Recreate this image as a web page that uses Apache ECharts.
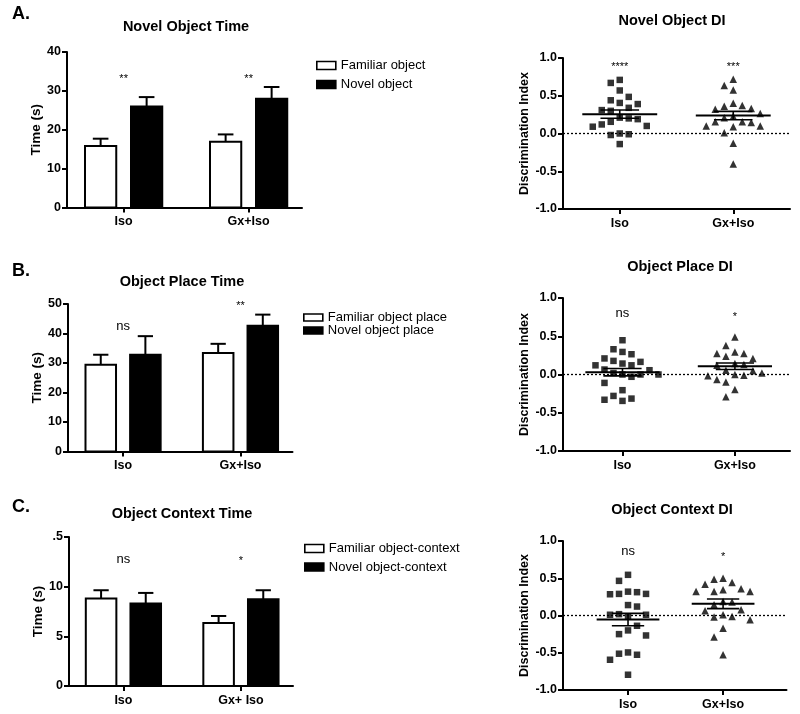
<!DOCTYPE html>
<html><head><meta charset="utf-8">
<script src="https://cdn.jsdelivr.net/npm/echarts@6/dist/echarts.min.js"></script>
<style>html,body{margin:0;padding:0;background:#fff}#c{width:800px;height:714px}</style>
</head><body><div id="c"></div>
<script>
// ---------- DATA ----------
const groupsAB = ['Iso', 'Gx+Iso'];
const groupsC = ['Iso', 'Gx+ Iso'];

// A. Novel Object Time (s)
const familiarA = [15.8, 16.9];
const familiarA_sem = [1.9, 1.9];
const novelA = [26.0, 28.0];
const novelA_sem = [2.4, 3.0];
const sigA = ['**', '**'];

// B. Object Place Time (s)
const familiarB = [29.4, 33.4];
const familiarB_sem = [3.4, 3.1];
const novelB = [32.8, 42.6];
const novelB_sem = [6.3, 3.8];
const sigB = ['ns', '**'];

// C. Object Context Time (s)
const familiarC = [8.8, 6.35];
const familiarC_sem = [0.84, 0.7];
const novelC = [8.3, 8.73];
const novelC_sem = [1.07, 0.91];
const sigC = ['ns', '*'];

// Discrimination indices (individual animals)
const diA_iso = [0.71, 0.67, 0.57, 0.485, 0.44, 0.405, 0.39, 0.34, 0.31, 0.30, 0.21, 0.20, 0.19, 0.155, 0.12, 0.10, 0.09, 0.0, -0.01, -0.02, -0.14];
const diA_gx = [0.72, 0.635, 0.575, 0.40, 0.37, 0.36, 0.33, 0.32, 0.265, 0.23, 0.21, 0.155, 0.155, 0.145, 0.10, 0.10, 0.09, 0.01, -0.13, -0.405];
const diA_mean = [0.256, 0.238];
const diA_sem = [0.055, 0.055];
const sigDiA = ['****', '***'];

const diB_iso = [0.448, 0.33, 0.295, 0.265, 0.21, 0.178, 0.165, 0.143, 0.12, 0.12, 0.065, 0.056, 0.02, 0.0, 0.0, 0.0, -0.03, -0.11, -0.205, -0.28, -0.315, -0.33, -0.345];
const diB_gx = [0.49, 0.38, 0.295, 0.274, 0.274, 0.24, 0.21, 0.143, 0.13, 0.12, 0.056, 0.05, 0.02, 0.0, -0.01, -0.015, -0.065, -0.097, -0.195, -0.29];
const diB_mean = [0.03, 0.108];
const diB_sem = [0.048, 0.043];
const sigDiB = ['ns', '*'];

const diC_iso = [0.546, 0.465, 0.32, 0.313, 0.29, 0.29, 0.285, 0.14, 0.12, 0.018, 0.01, 0.01, -0.013, -0.138, -0.2, -0.25, -0.268, -0.496, -0.513, -0.527, -0.594, -0.795];
const diC_gx = [0.50, 0.488, 0.443, 0.42, 0.36, 0.344, 0.322, 0.322, 0.322, 0.188, 0.18, 0.143, 0.063, 0.076, 0.01, -0.013, -0.02, -0.058, -0.17, -0.29, -0.527];
const diC_mean = [-0.055, 0.157];
const diC_sem = [0.083, 0.065];
const sigDiC = ['ns', '*'];

// ---------- LAYOUT ----------
const FONT = '"Liberation Sans", Arial, sans-serif';
const grids = [
  {left: 67, top: 52, width: 235, height: 155.5},
  {left: 563, top: 58, width: 227, height: 151},
  {left: 68, top: 304, width: 224.5, height: 147.5},
  {left: 563, top: 298, width: 227, height: 153},
  {left: 69, top: 537, width: 224, height: 149},
  {left: 563, top: 541, width: 223.5, height: 149}
];
const xRanges = [[0.547, 2.427], [0.5, 2.5], [0.531, 2.443], [0.471, 2.49], [0.537, 2.443], [0.316, 2.667]];

// deterministic beeswarm: spreads points that share similar values sideways
function swarm(values, gi, center) {
  const g = grids[gi];
  const pxPerX = g.width / (xRanges[gi][1] - xRanges[gi][0]);
  const pxPerY = g.height / 2;
  const order = values.map((v, i) => i).sort((a, b) => values[b] - values[a]);
  const placed = [];
  const xs = new Array(values.length);
  const step = 4.5, dxMin = 9, dyMin = 10.5;
  const cands = [0];
  for (let j = 1; j < 30; j++) { cands.push(-j * step, j * step); }
  let flip = false;
  for (const i of order) {
    const py = values[i] * pxPerY;
    let off = 0;
    for (let c of cands) {
      if (flip) c = -c;
      if (!placed.some(p => Math.abs(p.x - c) < dxMin && Math.abs(p.y - py) < dyMin)) { off = c; break; }
    }
    if (off !== 0) flip = !flip;
    placed.push({x: off, y: py});
    xs[i] = center + off / pxPerX;
  }
  return values.map((v, i) => [xs[i], v]);
}

function barRender(width, fill) {
  return function (params, api) {
    const x = api.value(0), v = api.value(1), e = api.value(2);
    const tl = api.coord([x - width / 2, v]);
    const br = api.coord([x + width / 2, 0]);
    const top = api.coord([x, v + e]);
    const capL = api.coord([x - width / 4, v + e]);
    const capR = api.coord([x + width / 4, v + e]);
    return {type: 'group', children: [
      {type: 'line', shape: {x1: top[0], y1: tl[1], x2: top[0], y2: top[1]}, style: {stroke: '#000', lineWidth: 2}},
      {type: 'line', shape: {x1: capL[0], y1: capL[1], x2: capR[0], y2: capR[1]}, style: {stroke: '#000', lineWidth: 2}},
      {type: 'rect', shape: {x: tl[0], y: tl[1], width: br[0] - tl[0], height: br[1] - tl[1]}, style: {fill: fill, stroke: '#000', lineWidth: 2}}
    ]};
  };
}

function meanRender(params, api) {
  const x = api.value(0), m = api.value(1), s = api.value(2);
  const a = api.coord([x - 0.33, m]), b = api.coord([x + 0.33, m]);
  const u1 = api.coord([x - 0.17, m + s]), u2 = api.coord([x + 0.17, m + s]);
  const l1 = api.coord([x - 0.17, m - s]), l2 = api.coord([x + 0.17, m - s]);
  const st = {stroke: '#000', lineWidth: 2};
  const st2 = {stroke: '#000', lineWidth: 1.6};
  return {type: 'group', children: [
    {type: 'line', shape: {x1: a[0], y1: a[1], x2: b[0], y2: b[1]}, style: st},
    {type: 'line', shape: {x1: u1[0], y1: u1[1], x2: u2[0], y2: u2[1]}, style: st2},
    {type: 'line', shape: {x1: l1[0], y1: l1[1], x2: l2[0], y2: l2[1]}, style: st2},
    {type: 'line', shape: {x1: (u1[0] + u2[0]) / 2, y1: u1[1], x2: (l1[0] + l2[0]) / 2, y2: l1[1]}, style: st2}
  ]};
}

const axisLine = {show: true, onZero: false, lineStyle: {color: '#000', width: 2}};
const axisTick = {show: true, length: 5, lineStyle: {color: '#000', width: 2}};

function xAxisDef(gi, names) {
  return {
    type: 'value', gridIndex: gi, min: xRanges[gi][0], max: xRanges[gi][1],
    axisLine: axisLine,
    axisTick: Object.assign({customValues: [1, 2]}, axisTick),
    axisLabel: {customValues: [1, 2], formatter: v => names[Math.round(v) - 1], color: '#000', fontWeight: 'bold', fontSize: 12.5, fontFamily: FONT, margin: 8},
    splitLine: {show: false}
  };
}
function yAxisDef(gi, min, max, interval, name, gap, fmt, nameSize) {
  return {
    type: 'value', gridIndex: gi, min: min, max: max, interval: interval,
    name: name, nameLocation: 'middle', nameGap: gap,
    nameTextStyle: {color: '#000', fontWeight: 'bold', fontSize: nameSize, fontFamily: FONT},
    axisLine: axisLine, axisTick: axisTick,
    axisLabel: {color: '#000', fontWeight: 'bold', fontSize: 12.5, fontFamily: FONT, margin: 6, formatter: fmt},
    splitLine: {show: false}
  };
}

function barSeries(gi, name, vals, sems, sign, width, off, fill) {
  return {
    type: 'custom', name: name, xAxisIndex: gi, yAxisIndex: gi,
    renderItem: barRender(width, fill),
    itemStyle: {color: fill, borderColor: '#000', borderWidth: 2},
    encode: {x: 0, y: 1},
    data: vals.map((v, i) => [i + 1 + sign * off, v, sems[i]]),
    z: 2
  };
}
// significance annotations drawn as text at data coordinates
function sigSeries(gi, labels, ys) {
  return {
    type: 'custom', xAxisIndex: gi, yAxisIndex: gi, silent: true, encode: {x: 0, y: 1},
    data: labels.map((t, i) => [i + 1, ys[i]]),
    renderItem: function (params, api) {
      const p = api.coord([api.value(0), api.value(1)]);
      const t = labels[params.dataIndex];
      return {type: 'text', x: p[0], y: p[1], style: {text: t, fill: '#000',
        font: (t === 'ns' ? 13 : 11) + 'px ' + FONT, align: 'center', verticalAlign: 'middle'}};
    },
    z: 5
  };
}
function diSeries(gi, iso, gx, means, sems) {
  return [
    {type: 'scatter', xAxisIndex: gi, yAxisIndex: gi, symbol: 'rect', symbolSize: 6.5, itemStyle: {color: '#000'},
      data: swarm(iso, gi, 1), z: 3,
      markLine: {silent: true, symbol: ['none', 'none'], label: {show: false}, animation: false,
        lineStyle: {type: [2, 2], color: '#000', width: 1.3}, data: [{yAxis: 0}]}},
    {type: 'scatter', xAxisIndex: gi, yAxisIndex: gi, symbol: 'triangle', symbolSize: 7.5, itemStyle: {color: '#000'},
      data: swarm(gx, gi, 2), z: 3},
    {type: 'custom', xAxisIndex: gi, yAxisIndex: gi, renderItem: meanRender, encode: {x: 0, y: 1},
      data: means.map((m, i) => [i + 1, m, sems[i]]), z: 4}
  ];
}

function legendDef(left, top, names, gap, lineH, itemH) {
  return {
    orient: 'vertical', left: left, top: top, padding: 0, itemGap: gap, itemWidth: 19, itemHeight: itemH,
    icon: 'rect', selectedMode: false,
    textStyle: {color: '#000', fontSize: 13, fontFamily: FONT, lineHeight: lineH},
    data: [
      {name: names[0], itemStyle: {color: '#fff', borderColor: '#000', borderWidth: 1.6}},
      {name: names[1], itemStyle: {color: '#000', borderColor: '#000', borderWidth: 1.6}}
    ]
  };
}

const diFmt = v => v.toFixed(1);
const fmtC = v => (v === 15 ? '.5' : String(v));

function txt(text, x, y, size, align) {
  return {type: 'text', x: x, y: y, style: {text: text, font: 'bold ' + size + 'px ' + FONT, fill: '#000',
    textAlign: align, textVerticalAlign: 'middle', align: align, verticalAlign: 'middle'}};
}

const option = {
  animation: false,
  backgroundColor: '#fff',
  grid: grids.map(g => Object.assign({containLabel: false}, g)),
  xAxis: [xAxisDef(0, groupsAB), xAxisDef(1, groupsAB), xAxisDef(2, groupsAB), xAxisDef(3, groupsAB), xAxisDef(4, groupsC), xAxisDef(5, groupsAB)],
  yAxis: [
    yAxisDef(0, 0, 40, 10, 'Time (s)', 22, null, 13.5),
    yAxisDef(1, -1, 1, 0.5, 'Discrimination Index', 32, diFmt, 12.5),
    yAxisDef(2, 0, 50, 10, 'Time (s)', 22, null, 13.5),
    yAxisDef(3, -1, 1, 0.5, 'Discrimination Index', 32, diFmt, 12.5),
    yAxisDef(4, 0, 15, 5, 'Time (s)', 22, fmtC, 13.5),
    yAxisDef(5, -1, 1, 0.5, 'Discrimination Index', 32, diFmt, 12.5)
  ],
  legend: [
    legendDef(316, 58.5, ['Familiar object', 'Novel object'], 5, 14, 8),
    legendDef(303, 311, ['Familiar object place', 'Novel object place'], 0, 10, 7),
    legendDef(304, 541.5, ['Familiar object-context', 'Novel object-context'], 4.5, 14, 8)
  ],
  graphic: [
    txt('A.', 12, 14, 18, 'left'),
    txt('B.', 12, 271, 18, 'left'),
    txt('C.', 12, 507, 18, 'left'),
    txt('Novel Object Time', 186, 27, 14.5, 'center'),
    txt('Novel Object DI', 672, 21, 14.5, 'center'),
    txt('Object Place Time', 182, 282, 14.5, 'center'),
    txt('Object Place DI', 680, 267, 14.5, 'center'),
    txt('Object Context Time', 182, 514, 14.5, 'center'),
    txt('Object Context DI', 672, 510, 14.5, 'center')
  ],
  series: [].concat(
    [barSeries(0, 'Familiar object', familiarA, familiarA_sem, -1, 0.25, 0.184, '#fff'),
     barSeries(0, 'Novel object', novelA, novelA_sem, 1, 0.25, 0.184, '#000'),
     sigSeries(0, sigA, [33, 33])],
    diSeries(1, diA_iso, diA_gx, diA_mean, diA_sem),
    [sigSeries(1, sigDiA, [0.88, 0.88])],
    [barSeries(2, 'Familiar object place', familiarB, familiarB_sem, -1, 0.26, 0.19, '#fff'),
     barSeries(2, 'Novel object place', novelB, novelB_sem, 1, 0.26, 0.19, '#000'),
     sigSeries(2, sigB, [42.4, 49.4])],
    diSeries(3, diB_iso, diB_gx, diB_mean, diB_sem),
    [sigSeries(3, sigDiB, [0.80, 0.75])],
    [barSeries(4, 'Familiar object-context', familiarC, familiarC_sem, -1, 0.26, 0.19, '#fff'),
     barSeries(4, 'Novel object-context', novelC, novelC_sem, 1, 0.26, 0.19, '#000'),
     sigSeries(4, sigC, [12.76, 12.55])],
    diSeries(5, diC_iso, diC_gx, diC_mean, diC_sem),
    [sigSeries(5, sigDiC, [0.86, 0.79])]
  )
};

const chart = echarts.init(document.getElementById('c'), null, {renderer: 'canvas'});
chart.setOption(option);
</script>
</body></html>
